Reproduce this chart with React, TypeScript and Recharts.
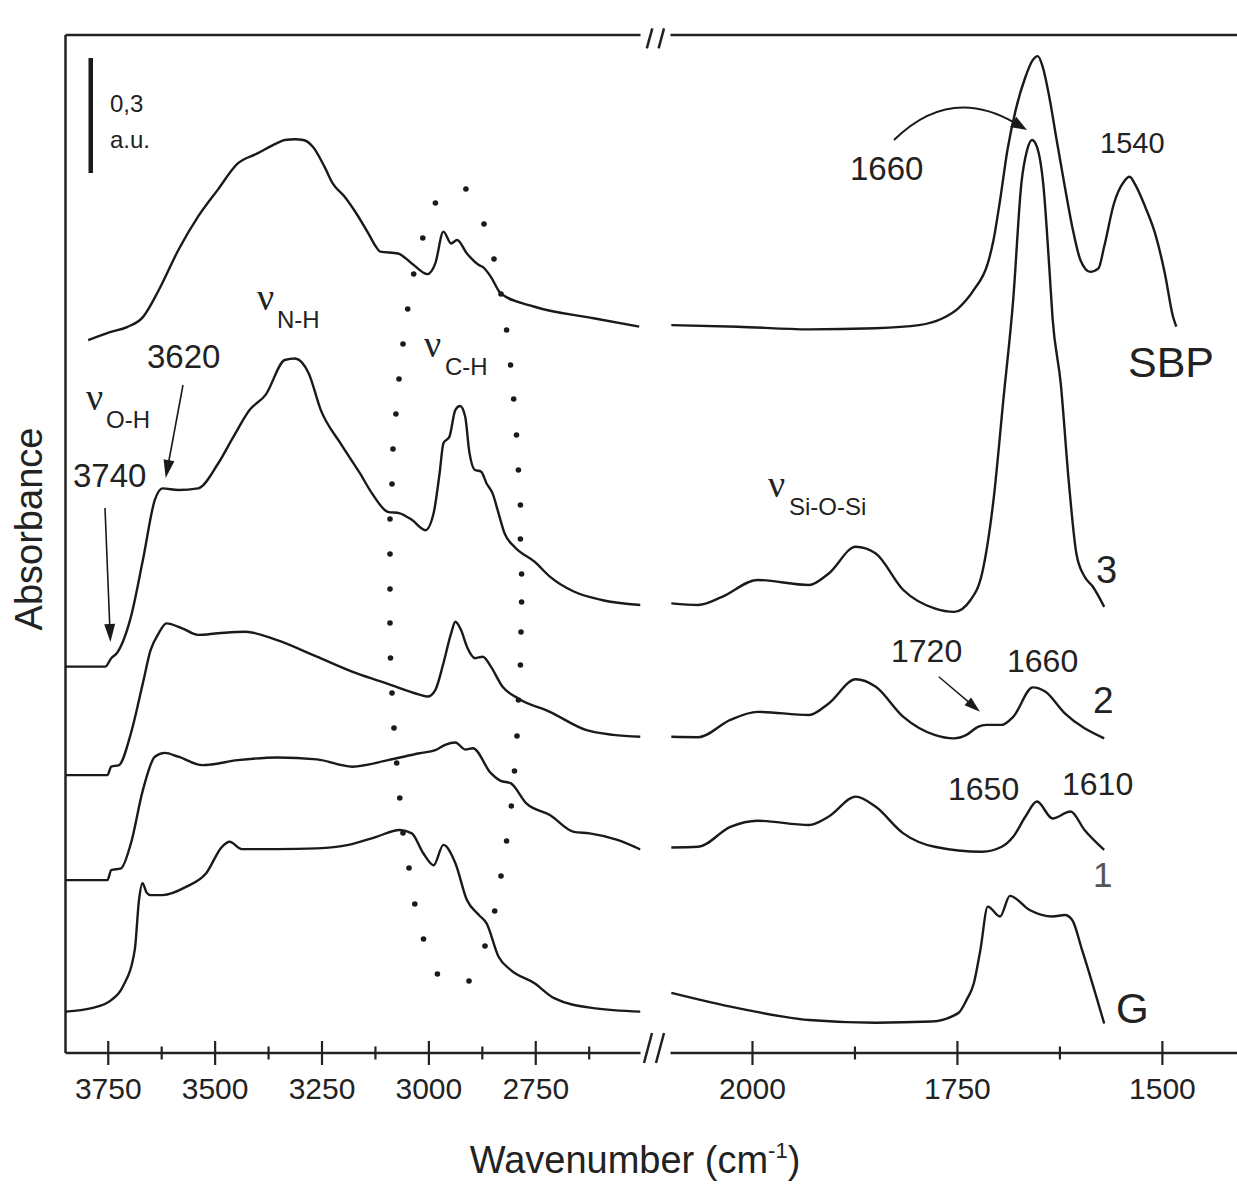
import React from 'react';
import { LineChart, Line, XAxis, YAxis, ReferenceLine } from 'recharts';

// ---------- axis settings ----------
const LEFT_DOMAIN: [number, number] = [2505, 3850];
const RIGHT_DOMAIN: [number, number] = [1409, 2100];
const Y_MAX = 2.656;
const leftMajorTicks = [3750, 3500, 3250, 3000, 2750];
const leftMinorTicks = [3625, 3375, 3125, 2875, 2625];
const rightMajorTicks = [2000, 1750, 1500];
const rightMinorTicks = [1875, 1625];

// ---------- spectra: [wavenumber cm-1, absorbance (offset, a.u.)] ----------
const sbpLeft: [number, number][] = [
  [3797, 1.86], [3746, 1.881], [3706, 1.894], [3669, 1.92], [3632, 1.99], [3586, 2.095], [3540, 2.182],
  [3494, 2.252], [3447, 2.321], [3401, 2.347], [3355, 2.374], [3337, 2.382], [3313, 2.384], [3294, 2.382],
  [3271, 2.364], [3244, 2.312], [3225, 2.269], [3197, 2.234], [3170, 2.191], [3142, 2.139], [3124, 2.104],
  [3114, 2.091], [3072, 2.086], [3040, 2.06], [3003, 2.032], [2985, 2.06], [2966, 2.143], [2948, 2.112],
  [2934, 2.121], [2911, 2.086], [2883, 2.056], [2874, 2.051], [2855, 2.025], [2832, 1.982], [2753, 1.947],
  [2615, 1.917], [2508, 1.895],
];
const sbpRight: [number, number][] = [
  [2099, 1.899], [2018, 1.895], [1931, 1.888], [1850, 1.891], [1797, 1.899], [1768, 1.917], [1749, 1.943],
  [1739, 1.965], [1730, 1.991], [1713, 2.06], [1706, 2.121], [1698, 2.225], [1689, 2.356], [1679, 2.46],
  [1667, 2.547], [1658, 2.591], [1652, 2.601], [1646, 2.573], [1638, 2.495], [1629, 2.382], [1619, 2.26],
  [1610, 2.156], [1600, 2.069], [1588, 2.038], [1578, 2.047], [1571, 2.104], [1559, 2.217], [1547, 2.273],
  [1540, 2.286], [1533, 2.265], [1521, 2.208], [1509, 2.139], [1497, 2.034], [1487, 1.921], [1483, 1.895],
];
const s3Left: [number, number][] = [
  [3849, 1.008], [3757, 1.008], [3743, 1.03], [3730, 1.043], [3697, 1.138], [3669, 1.286], [3641, 1.443],
  [3623, 1.473], [3586, 1.469], [3540, 1.473], [3493, 1.538], [3457, 1.608], [3419, 1.678], [3382, 1.717],
  [3337, 1.808], [3313, 1.812], [3281, 1.773], [3253, 1.678], [3207, 1.591], [3161, 1.512], [3133, 1.46],
  [3096, 1.412], [3068, 1.408], [3040, 1.391], [3008, 1.364], [2989, 1.408], [2975, 1.512], [2966, 1.591],
  [2952, 1.608], [2938, 1.678], [2927, 1.688], [2915, 1.66], [2906, 1.573], [2892, 1.521], [2878, 1.517],
  [2865, 1.486], [2851, 1.46], [2837, 1.408], [2823, 1.356], [2800, 1.321], [2753, 1.282], [2717, 1.243],
  [2661, 1.204], [2596, 1.182], [2505, 1.169],
];
const s3Right: [number, number][] = [
  [2099, 1.173], [2066, 1.169], [2037, 1.19], [1994, 1.234], [1931, 1.221], [1907, 1.251], [1874, 1.321],
  [1850, 1.304], [1816, 1.208], [1778, 1.16], [1754, 1.151], [1734, 1.182], [1720, 1.251], [1706, 1.443],
  [1694, 1.704], [1682, 1.965], [1672, 2.269], [1665, 2.356], [1659, 2.382], [1653, 2.364], [1645, 2.26],
  [1638, 2.051], [1634, 1.918], [1624, 1.747], [1614, 1.486], [1605, 1.304], [1595, 1.243], [1585, 1.217],
  [1571, 1.164],
];
const s2Left: [number, number][] = [
  [3849, 0.725], [3752, 0.725], [3743, 0.747], [3725, 0.751], [3697, 0.834], [3669, 0.965], [3651, 1.051],
  [3632, 1.095], [3614, 1.121], [3577, 1.108], [3540, 1.091], [3493, 1.095], [3429, 1.099], [3355, 1.077],
  [3262, 1.034], [3170, 0.991], [3096, 0.963], [3022, 0.935], [3003, 0.93], [2985, 0.947], [2966, 1.017],
  [2948, 1.095], [2938, 1.125], [2925, 1.104], [2911, 1.06], [2892, 1.03], [2874, 1.034], [2855, 1.008],
  [2828, 0.956], [2791, 0.925], [2717, 0.89], [2633, 0.843], [2569, 0.83], [2505, 0.825],
];
const s2Right: [number, number][] = [
  [2099, 0.825], [2066, 0.824], [2027, 0.869], [1994, 0.89], [1931, 0.882], [1907, 0.912], [1874, 0.975],
  [1850, 0.956], [1816, 0.877], [1778, 0.83], [1754, 0.821], [1739, 0.83], [1725, 0.851], [1715, 0.856],
  [1696, 0.856], [1682, 0.877], [1658, 0.954], [1643, 0.943], [1619, 0.886], [1571, 0.821],
];
const s1Left: [number, number][] = [
  [3849, 0.451], [3752, 0.451], [3743, 0.477], [3720, 0.482], [3697, 0.547], [3669, 0.686], [3641, 0.773],
  [3618, 0.783], [3586, 0.773], [3530, 0.751], [3447, 0.764], [3355, 0.771], [3262, 0.766], [3179, 0.747],
  [3096, 0.764], [3022, 0.782], [2985, 0.79], [2962, 0.804], [2938, 0.81], [2915, 0.792], [2897, 0.795],
  [2855, 0.73], [2832, 0.71], [2809, 0.704], [2772, 0.651], [2717, 0.621], [2661, 0.577], [2624, 0.573],
  [2559, 0.556], [2505, 0.531],
];
const s1Right: [number, number][] = [
  [2099, 0.536], [2066, 0.538], [2027, 0.59], [1994, 0.606], [1931, 0.595], [1907, 0.617], [1874, 0.669],
  [1850, 0.643], [1816, 0.573], [1778, 0.538], [1720, 0.525], [1696, 0.538], [1682, 0.564], [1667, 0.617],
  [1653, 0.656], [1634, 0.612], [1612, 0.63], [1595, 0.582], [1571, 0.53],
];
const gLeft: [number, number][] = [
  [3849, 0.108], [3789, 0.117], [3743, 0.138], [3716, 0.173], [3688, 0.269], [3678, 0.4], [3670, 0.443],
  [3660, 0.418], [3651, 0.412], [3623, 0.412], [3567, 0.434], [3521, 0.469], [3484, 0.538], [3466, 0.551],
  [3438, 0.532], [3355, 0.532], [3262, 0.534], [3188, 0.543], [3123, 0.564], [3068, 0.582], [3040, 0.573],
  [3013, 0.521], [2989, 0.49], [2966, 0.543], [2938, 0.495], [2911, 0.399], [2883, 0.36], [2865, 0.338],
  [2837, 0.251], [2809, 0.217], [2753, 0.182], [2707, 0.143], [2615, 0.117], [2505, 0.108],
];
const gRight: [number, number][] = [
  [2099, 0.157], [2018, 0.117], [1931, 0.086], [1850, 0.079], [1782, 0.082], [1749, 0.104], [1739, 0.138],
  [1730, 0.182], [1722, 0.269], [1713, 0.382], [1698, 0.356], [1686, 0.41], [1662, 0.373], [1634, 0.356],
  [1619, 0.36], [1610, 0.347], [1598, 0.269], [1571, 0.077],
];

// dotted ellipse around the C-H region (annotation, page pixels)
const ellipseDots: [number, number][] = [
  [465.9, 189], [435.4, 203], [484, 224], [422.8, 238], [494, 259], [413.7, 274], [501, 294], [407.7, 309],
  [403, 344], [399, 379], [395.9, 414], [393, 449], [392, 484], [390, 519], [390, 554], [390, 589], [390, 623],
  [390.5, 658], [392, 693], [394, 728], [396.7, 763], [399.8, 798], [403, 833], [409, 868], [414.8, 904],
  [423.5, 939], [437.4, 974],
  [506.6, 330], [510.5, 365], [513.7, 399], [516.5, 435], [518.4, 470], [520.4, 505], [520.4, 539], [521.6, 574],
  [521.6, 602], [521, 632], [520.4, 665], [518.4, 700], [517, 736], [514.5, 771], [511.3, 806], [506.6, 841],
  [501, 876], [494.7, 911], [485, 946], [469, 981],
];

const toPoints = (arr: [number, number][]) => arr.map(([wn, a]) => ({ wn, a }));

const leftSeries = [
  { name: 'SBP', data: toPoints(sbpLeft) },
  { name: '3', data: toPoints(s3Left) },
  { name: '2', data: toPoints(s2Left) },
  { name: '1', data: toPoints(s1Left) },
  { name: 'G', data: toPoints(gLeft) },
];
const rightSeries = [
  { name: 'SBP', data: toPoints(sbpRight) },
  { name: '3', data: toPoints(s3Right) },
  { name: '2', data: toPoints(s2Right) },
  { name: '1', data: toPoints(s1Right) },
  { name: 'G', data: toPoints(gRight) },
];

const SANS = "'Liberation Sans', Arial, sans-serif";
const SERIF = "'Liberation Serif', 'DejaVu Serif', serif";
const INK = '#1a1a1a';
const TXT = '#222';
const AXIS_Y = 1053;

const makeTick = (major: number[]) => (props: any) => {
  const { x, payload } = props;
  const isMajor = major.includes(payload.value);
  const len = isMajor ? 12 : 6.5;
  return (
    <g>
      <line x1={x} x2={x} y1={AXIS_Y - len} y2={AXIS_Y + len} stroke={TXT} strokeWidth={2.2} />
      {isMajor && (
        <text x={x} y={1099} textAnchor="middle" fontSize={30} fontFamily={SANS} fill={TXT}>
          {payload.value}
        </text>
      )}
    </g>
  );
};

function Panel(props: {
  width: number;
  margin: { top: number; right: number; bottom: number; left: number };
  domain: [number, number];
  major: number[];
  minor: number[];
  series: { name: string; data: { wn: number; a: number }[] }[];
  showLeftBorder: boolean;
}) {
  const ticks = [...props.major, ...props.minor].sort((a, b) => b - a);
  return (
    <LineChart width={props.width} height={1189} margin={props.margin}>
      <XAxis
        type="number"
        dataKey="wn"
        domain={props.domain}
        reversed
        allowDataOverflow
        ticks={ticks}
        interval={0}
        tick={makeTick(props.major)}
        tickLine={false}
        axisLine={{ stroke: TXT, strokeWidth: 2.5 }}
        height={60}
      />
      <YAxis type="number" domain={[0, Y_MAX]} allowDataOverflow hide width={0} />
      <ReferenceLine y={Y_MAX} stroke={TXT} strokeWidth={2.5} />
      {props.showLeftBorder && (
        <ReferenceLine x={props.domain[1]} stroke={TXT} strokeWidth={2.5} />
      )}
      {props.series.map((s) => (
        <Line
          key={s.name}
          name={s.name}
          data={s.data}
          dataKey="a"
          type="monotone"
          stroke={INK}
          strokeWidth={2.4}
          dot={false}
          isAnimationActive={false}
        />
      ))}
    </LineChart>
  );
}

function Arrow({ x1, y1, x2, y2, w = 1.6, head = 16, half = 5 }: any) {
  const dx = x2 - x1;
  const dy = y2 - y1;
  const L = Math.hypot(dx, dy);
  const ux = dx / L;
  const uy = dy / L;
  const bx = x2 - ux * head;
  const by = y2 - uy * head;
  const px = -uy;
  const py = ux;
  return (
    <g>
      <line x1={x1} y1={y1} x2={bx + ux * 2} y2={by + uy * 2} stroke={INK} strokeWidth={w} />
      <polygon
        points={`${x2},${y2} ${bx + px * half},${by + py * half} ${bx - px * half},${by - py * half}`}
        fill={INK}
      />
    </g>
  );
}

function Nu({ x, y, sub, subX, subDy = 18, size = 38, subSize = 24 }: any) {
  return (
    <text x={x} y={y} fill={TXT}>
      <tspan fontFamily={SERIF} fontSize={size}>ν</tspan>
      <tspan x={subX} dy={subDy} fontFamily={SANS} fontSize={subSize}>{sub}</tspan>
    </text>
  );
}

function Overlay() {
  // curved arrow geometry (SBP 1660)
  const cx0 = 894, cy0 = 140, qx = 950, qy = 85, tx = 1027, ty = 130;
  const ddx = tx - qx, ddy = ty - qy, dl = Math.hypot(ddx, ddy);
  const ux = ddx / dl, uy = ddy / dl;
  const bx = tx - ux * 16, by = ty - uy * 16;
  return (
    <svg width={1237} height={1189} style={{ position: 'absolute', left: 0, top: 0, pointerEvents: 'none' }}>
      {/* axis break marks */}
      <g stroke={TXT} strokeWidth={2.5}>
        <line x1={646.8} y1={48.3} x2={652.3} y2={28.3} />
        <line x1={658.6} y1={48.3} x2={664} y2={28.3} />
        <line x1={644} y1={1063} x2={652} y2={1033} />
        <line x1={656} y1={1063} x2={664} y2={1033} />
      </g>
      {/* scale bar */}
      <rect x={88.5} y={58} width={4.5} height={115} fill={INK} />
      <text x={110} y={112} fontSize={24} fontFamily={SANS} fill={TXT}>0,3</text>
      <text x={110} y={148} fontSize={24} fontFamily={SANS} fill={TXT}>a.u.</text>
      {/* dotted ellipse */}
      {ellipseDots.map(([x, y], i) => (
        <circle key={i} cx={x} cy={y} r={2.8} fill={INK} />
      ))}
      {/* band labels */}
      <Nu x={257} y={310} sub="N-H" subX={277} />
      <Nu x={424} y={357} sub="C-H" subX={445} />
      <Nu x={86} y={410} sub="O-H" subX={106} />
      <Nu x={768} y={497} sub="Si-O-Si" subX={789} />
      {/* peak labels */}
      <text x={147} y={368} fontSize={33} fontFamily={SANS} fill={TXT}>3620</text>
      <text x={73} y={487} fontSize={33} fontFamily={SANS} fill={TXT}>3740</text>
      <Arrow x1={183} y1={385} x2={165.7} y2={478} head={18} half={5.5} />
      <Arrow x1={105} y1={508} x2={110.4} y2={642} head={18} half={5.5} />
      <text x={850} y={180} fontSize={33} fontFamily={SANS} fill={TXT}>1660</text>
      <text x={1100} y={153} fontSize={29} fontFamily={SANS} fill={TXT}>1540</text>
      <path d={`M ${cx0} ${cy0} Q ${qx} ${qy} ${bx + ux * 2} ${by + uy * 2}`} fill="none" stroke={INK} strokeWidth={2} />
      <polygon
        points={`${tx},${ty} ${bx - uy * 6},${by + ux * 6} ${bx + uy * 6},${by - ux * 6}`}
        fill={INK}
      />
      <text x={891} y={662} fontSize={32} fontFamily={SANS} fill={TXT}>1720</text>
      <Arrow x1={938.8} y1={676.7} x2={980} y2={711.7} head={16} half={5} w={1.4} />
      <text x={1007} y={672} fontSize={32} fontFamily={SANS} fill={TXT}>1660</text>
      <text x={948} y={800} fontSize={32} fontFamily={SANS} fill={TXT}>1650</text>
      <text x={1062} y={795} fontSize={32} fontFamily={SANS} fill={TXT}>1610</text>
      {/* series labels */}
      <text x={1128} y={377} fontSize={43} fontFamily={SANS} fill={TXT}>SBP</text>
      <text x={1096} y={583} fontSize={38} fontFamily={SANS} fill={TXT}>3</text>
      <text x={1093} y={713} fontSize={37} fontFamily={SANS} fill={TXT}>2</text>
      <text x={1093} y={887} fontSize={35} fontFamily={SANS} fill="#555">1</text>
      <text x={1116} y={1023} fontSize={42} fontFamily={SANS} fill={TXT}>G</text>
      {/* axis titles */}
      <text x={635} y={1173} textAnchor="middle" fontSize={38} fontFamily={SANS} fill={TXT}>
        Wavenumber (cm<tspan fontSize={22} dy={-15}>-1</tspan><tspan dy={15}>)</tspan>
      </text>
      <text
        x={42}
        y={529}
        textAnchor="middle"
        fontSize={38}
        fontFamily={SANS}
        fill={TXT}
        transform="rotate(-90, 42, 529)"
      >
        Absorbance
      </text>
    </svg>
  );
}

export default function App() {
  return (
    <div style={{ position: 'absolute', left: 0, top: 0, width: 1237, height: 1189, overflow: 'hidden', background: '#fff' }}>
      <div style={{ position: 'absolute', left: 0, top: 0 }}>
        <Panel
          width={660}
          margin={{ top: 35, right: 19.5, bottom: 76, left: 65.5 }}
          domain={LEFT_DOMAIN}
          major={leftMajorTicks}
          minor={leftMinorTicks}
          series={leftSeries}
          showLeftBorder={true}
        />
      </div>
      <div style={{ position: 'absolute', left: 650, top: 0 }}>
        <Panel
          width={587}
          margin={{ top: 35, right: 0, bottom: 76, left: 20.5 }}
          domain={RIGHT_DOMAIN}
          major={rightMajorTicks}
          minor={rightMinorTicks}
          series={rightSeries}
          showLeftBorder={false}
        />
      </div>
      <Overlay />
    </div>
  );
}
